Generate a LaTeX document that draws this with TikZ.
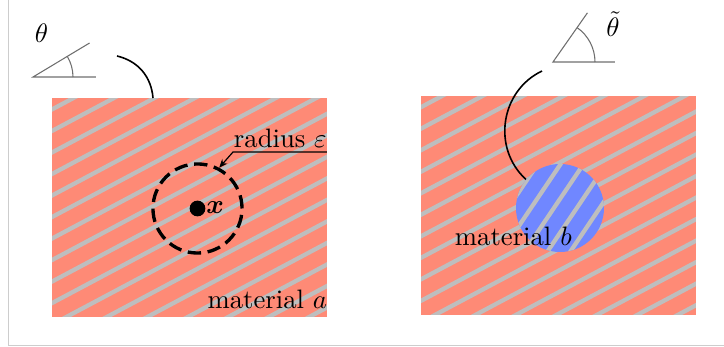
\documentclass[tikz,border=0pt]{standalone}
\usepackage{bm}
\usetikzlibrary{arrows.meta,calc}
\definecolor{salmonfill}{RGB}{254,138,118}
\definecolor{bluefill}{RGB}{112,135,255}
\definecolor{stripegray}{RGB}{190,190,190}
\definecolor{framegray}{RGB}{205,205,205}
\definecolor{anglegray}{RGB}{110,110,110}
\begin{document}
\begin{tikzpicture}[x=0.375pt,y=0.375pt,
  stripe/.style={stripegray,line width=1.6pt},
  matbox/.style={rectangle,fill=salmonfill,inner sep=0pt,outer sep=0pt,minimum width=103.1pt,minimum height=82.1pt},
  anglebase/.style={anglegray,line width=0.4pt},
  pointer/.style={black,line width=0.6pt},
  lbl/.style={inner sep=0pt,outer sep=0pt}]
\useasboundingbox (0,0) rectangle (724,347);
\draw[framegray,line width=0.55pt] (8.5,347) -- (8.5,1.5) -- (724,1.5);

% left material a
\node[matbox] (ma) at (189.5,139.5) {};
\begin{scope}
  \clip (ma.south west) rectangle (ma.north east);
  \begin{scope}[shift={(73.5,249)},rotate=28]
    \foreach \k in {-25,...,25} \draw[stripe] (-600,\k*19) -- (600,\k*19);
  \end{scope}
\end{scope}

% right material a
\node[matbox] (mr) at (558.5,141.5) {};
\begin{scope}
  \clip (mr.south west) rectangle (mr.north east);
  \begin{scope}[shift={(442,251)},rotate=28]
    \foreach \k in {-25,...,25} \draw[stripe] (-600,\k*19) -- (600,\k*19);
  \end{scope}
\end{scope}

% blue inclusion
\node[circle,fill=bluefill,inner sep=0pt,minimum size=33pt] (mb) at (560,139) {};
\begin{scope}
  \clip (560,139) circle (44);
  \begin{scope}[shift={(560,182)},rotate=56]
    \foreach \k in {-6,...,6} \draw[stripe] (-200,\k*19) -- (200,\k*19);
  \end{scope}
\end{scope}

% dashed ball
\node[circle,draw=black,line width=1.25pt,dash pattern=on 5pt off 2.5pt,inner sep=0pt,minimum size=33.4pt] (dc) at (197.5,138.5) {};
\node[circle,fill=black,inner sep=0pt,minimum size=5.9pt] (pt) at (197.5,138.5) {};
\node[lbl,anchor=base west] (xl) at (206.5,133.7) {$\bm{x}$};

% radius label
\node[lbl,anchor=base west] (rl) at (234,199) {radius $\varepsilon$};
\coordinate (ulE) at (327,195);
\coordinate (ulW) at (233,195);
\draw[line width=0.45pt,-{Stealth[length=3.2pt,width=2.6pt]}] (ulE) -- (ulW) -- (dc.62);

% material labels
\node[lbl,anchor=base east] (la) at (327,38) {material $a$};
\node[lbl,anchor=base west] (lb) at (455,101) {material $b$};

% angle indicator theta
\coordinate (o1) at (33,270);
\coordinate (h1) at (96,270);
\draw[anglebase] (h1) -- (o1) -- ++(31:66);
\draw[anglebase] ($(o1)+(40,0)$) arc (0:31:40);
\node[lbl,anchor=base west] (t1) at (35,304) {$\theta$};

% angle indicator theta tilde
\coordinate (o2) at (553,285);
\coordinate (h2) at (615,285);
\draw[anglebase] (h2) -- (o2) -- ++(55:60);
\draw[anglebase] ($(o2)+(42,0)$) arc (0:55:42);
\node[lbl,anchor=base west] (t2) at (606.5,310) {$\tilde{\theta}$};

% pointers
\coordinate (p1) at (117,291);
\coordinate (p1e) at (153,249);
\draw[pointer] (p1) to[bend left=36] (p1e);
\coordinate (p2) at (542,276);
\draw[pointer] (p2) to[bend right=56,looseness=1.08] (mb.140);
\end{tikzpicture}
\end{document}
